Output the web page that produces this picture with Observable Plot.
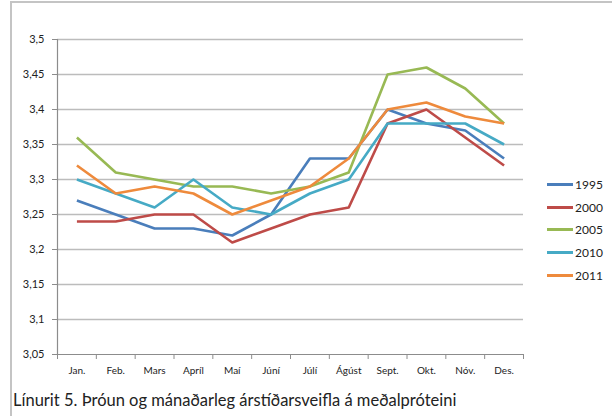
<!DOCTYPE html>
<html>
<head>
<meta charset="utf-8">
<script src="https://cdn.jsdelivr.net/npm/d3@7"></script>
<script src="https://cdn.jsdelivr.net/npm/@observablehq/plot@0.6"></script>
<style>
  body { margin: 0; background: #fff; }
  #wrap { position: relative; width: 612px; height: 416px; overflow: hidden; font-family: Lato, "Open Sans", sans-serif; }
  #frame { position: absolute; left: 10px; top: 1px; width: 640px; height: 460px; border: 2px solid #c4c4c4; box-sizing: border-box; }
  #chart { position: absolute; left: 0; top: 0; }
  #legend { position: absolute; left: 547px; top: 173px; font-size: 12px; color: #222; }
  .item { height: 22.7px; display: flex; align-items: center; }
  .sw { width: 26px; height: 3px; margin-right: 2px; }
  #caption { position: absolute; left: 13px; top: 390px; font-size: 16.5px; color: #222; white-space: nowrap; }
</style>
</head>
<body>
<div id="wrap">
  <div id="frame"></div>
  <div id="chart"></div>
  <div id="legend"></div>
  <div id="caption">Línurit 5. Þróun og mánaðarleg árstíðarsveifla á meðalpróteini</div>
</div>
<script>
const months = ["Jan.", "Feb.", "Mars", "Apríl", "Maí", "Júní", "Júlí", "Ágúst", "Sept.", "Okt.", "Nóv.", "Des."];
const years = ["1995", "2000", "2005", "2010", "2011"];
const colors = ["#4a7ebb", "#be4b48", "#98b954", "#46aac5", "#ee8a3c"];
const v1995 = [3.27, 3.25, 3.23, 3.23, 3.22, 3.25, 3.33, 3.33, 3.40, 3.38, 3.37, 3.33];
const v2000 = [3.24, 3.24, 3.25, 3.25, 3.21, 3.23, 3.25, 3.26, 3.38, 3.40, 3.36, 3.32];
const v2005 = [3.36, 3.31, 3.30, 3.29, 3.29, 3.28, 3.29, 3.31, 3.45, 3.46, 3.43, 3.38];
const v2010 = [3.30, 3.28, 3.26, 3.30, 3.26, 3.25, 3.28, 3.30, 3.38, 3.38, 3.38, 3.35];
const v2011 = [3.32, 3.28, 3.29, 3.28, 3.25, 3.27, 3.29, 3.33, 3.40, 3.41, 3.39, 3.38];
const yTicks = [3.05, 3.1, 3.15, 3.2, 3.25, 3.3, 3.35, 3.4, 3.45, 3.5];

const series = [v1995, v2000, v2005, v2010, v2011];
const data = [];
series.forEach((vals, s) => vals.forEach((v, i) => data.push({year: years[s], i, month: months[i], value: v})));

const fmt = d => String(+d.toFixed(2)).replace(".", ",");

const chart = Plot.plot({
  width: 612,
  height: 380,
  marginLeft: 57,
  marginRight: 89,
  marginTop: 39,
  marginBottom: 26,
  style: {fontFamily: "Lato, 'Open Sans', sans-serif", fontSize: "10.5px", color: "#222", background: "transparent"},
  x: {domain: [0, 12], axis: null},
  y: {domain: [3.05, 3.5], axis: null},
  color: {domain: years, range: colors},
  marks: [
    Plot.gridY(yTicks.filter(t => t > 3.05), {stroke: "#bcbcbc", strokeOpacity: 1, strokeWidth: 1.3}),
    Plot.ruleY([3.05], {stroke: "#8c8c8c", strokeWidth: 1.2}),
    Plot.ruleX([0], {stroke: "#8c8c8c", strokeWidth: 1.2}),
    Plot.axisY({ticks: yTicks, tickFormat: fmt, tickSize: 5, tickPadding: 8, stroke: "#8c8c8c", fill: "#222", fontSize: 11, label: null}),
    Plot.axisX({ticks: d3.range(13), tickFormat: () => "", tickSize: 5, stroke: "#8c8c8c", label: null}),
    Plot.axisX({ticks: d3.range(12).map(i => i + 0.5), tickFormat: d => months[Math.floor(d)], tickSize: 0, tickPadding: 12, fill: "#222", fontSize: 10, label: null}),
    Plot.line(data, {x: d => d.i + 0.5, y: "value", z: "year", stroke: "year", strokeWidth: 2.6, strokeLinejoin: "round", strokeLinecap: "butt"})
  ]
});
document.getElementById("chart").appendChild(chart);

const legend = document.getElementById("legend");
years.forEach((y, k) => {
  const it = document.createElement("div");
  it.className = "item";
  it.innerHTML = `<span class="sw" style="background:${colors[k]}"></span><span>${y}</span>`;
  legend.appendChild(it);
});
</script>
</body>
</html>
